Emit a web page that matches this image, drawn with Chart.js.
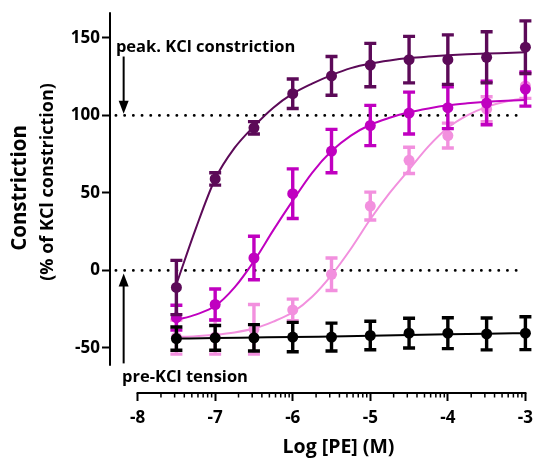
<!DOCTYPE html>
<html>
<head>
<meta charset="utf-8">
<script src="https://cdn.jsdelivr.net/npm/chart.js@4"></script>
<style>
  html, body { margin: 0; padding: 0; background: #fff; }
  #wrap { width: 540px; height: 458px; position: relative; }
</style>
</head>
<body>
<div id="wrap"><canvas id="chart" width="540" height="458"></canvas></div>
<script>
'use strict';

// doses (log M)
const doses = [-7.5, -7, -6.5, -6, -5.5, -5, -4.5, -4, -3.5, -3];

// mean +/- error
const darkMean = [-11, 59, 92, 114, 125.5, 132.5, 136, 136, 137.5, 144];
const darkErr = [17.5, 4, 4, 9.5, 12.5, 14, 15, 16, 16.5, 17];

const magMean = [-30.5, -22, 8, 49.5, 77, 93.5, 101.5, 105, 108, 117];
const magErr = [8, 10, 14, 16, 14, 13, 13.5, 13.5, 14, 11];

const pinkMean = [-43, -43, -38, -25.5, -2.5, 41.5, 71, 87, 104, 119];
const pinkErr = [11, 11, 16, 7, 10.5, 9, 8.5, 8, 8, 8];

const blackMean = [-44, -43.5, -43.5, -43, -43, -42, -40.5, -40.5, -41, -40.5];
const blackErr = [7.5, 8, 8.5, 9.5, 9, 9.2, 9.6, 10, 10.3, 10.6];

// fitted curves
const fitX = [-7.5, -7.25, -7, -6.75, -6.5, -6.25, -6, -5.75, -5.5, -5.25, -5, -4.75, -4.5, -4.25, -4, -3.75, -3.5, -3.25, -3];
const darkFit = [-9, 27, 59, 79, 93, 105, 114, 120.5, 126, 130.5, 133.5, 135.5, 137, 138, 138.8, 139.4, 139.9, 140.3, 140.7];
const magFit = [-32, -28.5, -23, -11, 6, 26, 45, 63, 77, 87, 94, 98.5, 102, 104.5, 106.5, 107.8, 108.8, 109.5, 110];
const pinkFit = [-43, -42.5, -41.5, -40, -37.5, -33, -27, -17, -3, 14, 33, 50, 65, 80, 92, 100, 105.5, 109, 111];
const blackFit = [-44, -43.6, -43.3, -43, -42.6, -42.2, -41.7, -41.2, -40.8, -40.5];

// axes
const xTicks = [-8, -7, -6, -5, -4, -3];
const yTicks = [-50, 0, 50, 100, 150];
const refLevels = [0, 100];

const DARK = '#5c0a58';
const MAG = '#c000c0';
const PINK = '#f290de';
const BLACK = '#000000';
const FONT = '"Open Sans", Lato, sans-serif';

function pts(xs, ys) {
  return xs.map((x, i) => ({ x: x, y: ys[i] }));
}

function pointSet(mean, err, color) {
  return {
    type: 'scatter',
    data: pts(doses, mean),
    errors: err,
    showLine: false,
    pointRadius: 5.5,
    pointHoverRadius: 5.5,
    backgroundColor: color,
    borderColor: color,
    borderWidth: 0,
    clip: false
  };
}

function fitSet(xs, ys, color) {
  return {
    type: 'line',
    data: pts(xs, ys),
    showLine: true,
    pointRadius: 0,
    borderColor: color,
    borderWidth: 2,
    fill: false,
    cubicInterpolationMode: 'monotone',
    clip: false
  };
}

// error bars, dotted reference lines, axis lines, notes
const extras = {
  id: 'extras',
  beforeDatasetsDraw(chart) {
    const ctx = chart.ctx;
    const xs = chart.scales.x;
    const ys = chart.scales.y;
    ctx.save();
    ctx.strokeStyle = '#000';
    ctx.lineWidth = 2.8;
    ctx.lineCap = 'round';
    ctx.setLineDash([0.1, 8.6]);
    refLevels.forEach(v => {
      const py = ys.getPixelForValue(v);
      ctx.beginPath();
      ctx.moveTo(xs.getPixelForValue(-8.28), py);
      ctx.lineTo(xs.getPixelForValue(-3.07), py);
      ctx.stroke();
    });
    ctx.restore();
  },
  beforeDatasetDraw(chart, args) {
    const ds = chart.data.datasets[args.index];
    if (!ds.errors) return;
    const ctx = chart.ctx;
    const ys = chart.scales.y;
    ctx.save();
    ctx.strokeStyle = ds.borderColor;
    ctx.lineWidth = 3.4;
    args.meta.data.forEach((el, i) => {
      const top = ys.getPixelForValue(ds.data[i].y + ds.errors[i]);
      const bot = ys.getPixelForValue(ds.data[i].y - ds.errors[i]);
      ctx.beginPath();
      ctx.moveTo(el.x, top);
      ctx.lineTo(el.x, bot);
      ctx.moveTo(el.x - 6, top);
      ctx.lineTo(el.x + 6, top);
      ctx.moveTo(el.x - 6, bot);
      ctx.lineTo(el.x + 6, bot);
      ctx.stroke();
    });
    ctx.restore();
  },
  afterDraw(chart) {
    const ctx = chart.ctx;
    const xs = chart.scales.x;
    const ys = chart.scales.y;
    const area = chart.chartArea;
    ctx.save();
    ctx.strokeStyle = '#000';
    ctx.fillStyle = '#000';

    // y axis line
    ctx.lineWidth = 2;
    ctx.beginPath();
    ctx.moveTo(area.left, area.top);
    ctx.lineTo(area.left, ys.getPixelForValue(-61.5));
    ctx.stroke();

    // x axis line
    ctx.beginPath();
    ctx.moveTo(xs.getPixelForValue(-8) - 1, area.bottom);
    ctx.lineTo(xs.getPixelForValue(-3) + 1, area.bottom);
    ctx.stroke();

    // minor log ticks
    ctx.lineWidth = 1.5;
    for (let d = -8; d < -3; d++) {
      for (let k = 2; k <= 9; k++) {
        const px = xs.getPixelForValue(d + Math.log10(k));
        ctx.beginPath();
        ctx.moveTo(px, area.bottom);
        ctx.lineTo(px, area.bottom + 4.5);
        ctx.stroke();
      }
    }

    // arrows
    const ax = xs.getPixelForValue(-8.18);
    function arrow(y0, y1) {
      const dir = y1 > y0 ? 1 : -1;
      ctx.lineWidth = 2;
      ctx.beginPath();
      ctx.moveTo(ax, y0);
      ctx.lineTo(ax, y1 - dir * 10);
      ctx.stroke();
      ctx.beginPath();
      ctx.moveTo(ax, y1);
      ctx.lineTo(ax - 5, y1 - dir * 13);
      ctx.lineTo(ax + 5, y1 - dir * 13);
      ctx.closePath();
      ctx.fill();
    }
    arrow(ys.getPixelForValue(138), ys.getPixelForValue(101));
    arrow(ys.getPixelForValue(-60), ys.getPixelForValue(-2));

    // notes
    ctx.font = 'bold 16.5px ' + FONT;
    ctx.textBaseline = 'middle';
    ctx.textAlign = 'left';
    ctx.fillText('peak. KCl constriction', xs.getPixelForValue(-8.28), ys.getPixelForValue(144));
    ctx.fillText('pre-KCl tension', xs.getPixelForValue(-8.2), ys.getPixelForValue(-69));

    // axis titles
    ctx.textAlign = 'center';
    ctx.font = 'bold 19.5px ' + FONT;
    ctx.fillText('Log [PE] (M)', (xs.getPixelForValue(-8) + xs.getPixelForValue(-3)) / 2 + 7, 447);

    ctx.save();
    ctx.translate(20, 188);
    ctx.rotate(-Math.PI / 2);
    ctx.font = 'bold 20.5px ' + FONT;
    ctx.fillText('Constriction', 0, 0);
    ctx.restore();

    ctx.save();
    ctx.translate(48, 182);
    ctx.rotate(-Math.PI / 2);
    ctx.font = 'bold 18px ' + FONT;
    ctx.fillText('(% of KCl constriction)', 0, 0);
    ctx.restore();

    ctx.restore();
  }
};

const ctx = document.getElementById('chart').getContext('2d');

new Chart(ctx, {
  data: {
    datasets: [
      pointSet(blackMean, blackErr, BLACK),
      fitSet(doses, blackFit, BLACK),
      pointSet(darkMean, darkErr, DARK),
      fitSet(fitX, darkFit, DARK),
      pointSet(magMean, magErr, MAG),
      fitSet(fitX, magFit, MAG),
      pointSet(pinkMean, pinkErr, PINK),
      fitSet(fitX, pinkFit, PINK)
    ]
  },
  options: {
    responsive: false,
    animation: false,
    layout: { padding: { top: 8, right: 9, bottom: 0, left: 0 } },
    plugins: {
      legend: { display: false },
      tooltip: { enabled: false }
    },
    scales: {
      x: {
        type: 'linear',
        min: -8.356,
        max: -3,
        afterBuildTicks: s => { s.ticks = xTicks.map(v => ({ value: v })); },
        afterFit: s => { s.height = 65; },
        border: { display: false },
        grid: {
          drawOnChartArea: false,
          drawTicks: true,
          tickLength: 8,
          tickWidth: 2,
          tickColor: '#000'
        },
        ticks: {
          color: '#000',
          padding: 7,
          maxRotation: 0,
          font: { family: FONT, size: 17, weight: 'bold' },
          callback: v => String(v)
        }
      },
      y: {
        type: 'linear',
        min: -79.1,
        max: 166.6,
        afterBuildTicks: s => { s.ticks = yTicks.map(v => ({ value: v })); },
        afterFit: s => { s.width = 110; },
        border: { display: false },
        grid: {
          drawOnChartArea: false,
          drawTicks: true,
          tickLength: 8,
          tickWidth: 2,
          tickColor: '#000'
        },
        ticks: {
          color: '#000',
          padding: 2,
          font: { family: FONT, size: 17, weight: 'bold' },
          callback: v => String(v)
        }
      }
    }
  },
  plugins: [extras]
});
</script>
</body>
</html>
